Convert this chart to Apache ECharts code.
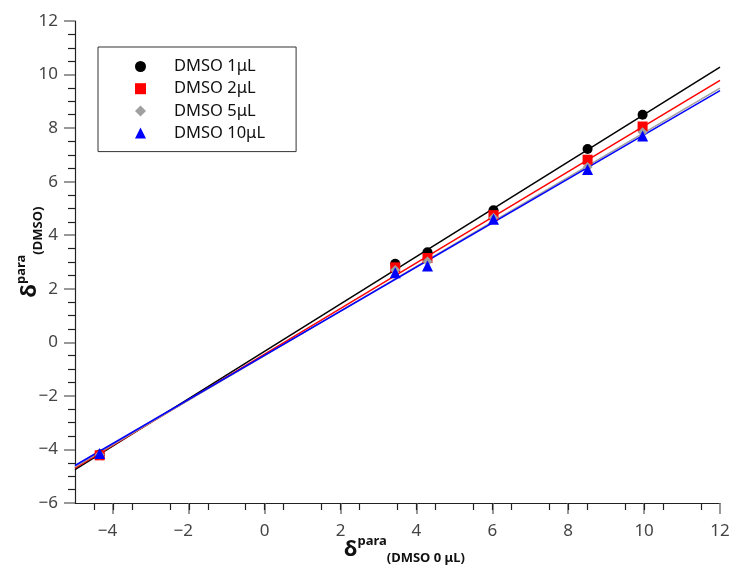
<!DOCTYPE html>
<html>
<head>
<meta charset="utf-8">
<script src="https://cdn.jsdelivr.net/npm/echarts/dist/echarts.min.js"></script>
<style>html,body{margin:0;padding:0;background:#fff}#c{width:732px;height:567px}</style>
</head>
<body>
<div id="c"></div>
<script>
// ---- data ----
const seriesNames = ['DMSO 1μL', 'DMSO 2μL', 'DMSO 5μL', 'DMSO 10μL'];
const xValues = [-4.35, 3.44, 4.29, 6.03, 8.51, 9.96];
const yDmso1 = [-4.19, 2.93, 3.36, 4.93, 7.22, 8.50];
const yDmso2 = [-4.22, 2.80, 3.15, 4.75, 6.82, 8.06];
const yDmso5 = [-4.20, 2.70, 3.02, 4.65, 6.55, 7.85];
const yDmso10 = [-4.15, 2.60, 2.85, 4.60, 6.45, 7.71];
// fitted lines: values at the ends of the fit range
const fitRange = [-5, 12];
const fitStart = [-4.75, -4.70, -4.65, -4.60];
const fitEnd = [10.28, 9.78, 9.49, 9.40];
const xTicks = [-4, -2, 0, 2, 4, 6, 8, 10, 12];
const yTicks = [-6, -4, -2, 0, 2, 4, 6, 8, 10, 12];

const colors = ['#000000', '#ff0000', '#a0a0a0', '#0000ff'];
const symbols = ['circle', 'rect', 'diamond', 'triangle'];
const sizes = [10, 10, 10, 11];
const ySets = [yDmso1, yDmso2, yDmso5, yDmso10];

const series = [];
seriesNames.forEach((n, i) => {
  series.push({
    name: n + ' fit', type: 'line', silent: true, symbol: 'none',
    data: [[fitRange[0], fitStart[i]], [fitRange[1], fitEnd[i]]],
    lineStyle: { color: colors[i], width: 1.5 }, z: 2
  });
});
seriesNames.forEach((n, i) => {
  series.push({
    name: n, type: 'scatter', symbol: symbols[i], symbolSize: sizes[i],
    itemStyle: { color: colors[i], opacity: 1 },
    data: xValues.map((x, k) => [x, ySets[i][k]]), z: 3
  });
});

const fmt = v => {
  if (v < 0) return '{neg|\u2212' + Math.abs(v) + '}';
  return String(v);
};
const labelFont = { fontFamily: 'Noto Sans', fontSize: 17, color: '#444' };
const makeRich = (shift) => ({
  d: { fontFamily: 'Noto Sans', fontSize: 22, fontWeight: 'bold', color: '#111', lineHeight: 30, verticalAlign: 'middle', padding: [0, 0, 0, shift] },
  sup: { fontFamily: 'Noto Sans', fontSize: 13, fontWeight: 'bold', color: '#111', lineHeight: 14, verticalAlign: 'top' },
  sub: { fontFamily: 'Noto Sans', fontSize: 13, fontWeight: 'bold', color: '#111', lineHeight: 14, verticalAlign: 'bottom' }
});

const chart = echarts.init(document.getElementById('c'));
chart.setOption({
  animation: false,
  backgroundColor: '#fff',
  grid: { left: 75, right: 12, top: 21, bottom: 64, containLabel: false, outerBoundsMode: 'none' },
  legend: {
    data: seriesNames.map((n, i) => ({ name: n, itemStyle: { color: colors[i], opacity: 1 } })),
    orient: 'vertical',
    left: 98, top: 47,
    borderColor: '#333', borderWidth: 1,
    padding: [11, 31, 10, 37],
    itemWidth: 11, itemHeight: 11, itemGap: 5.2,
    textStyle: { fontFamily: 'Noto Sans', fontSize: 16.5, color: '#111', lineHeight: 16, padding: [0, 0, 0, 23] }
  },
  xAxis: {
    type: 'value', min: -5, max: 12, interval: 2,
    axisLine: { onZero: false, lineStyle: { color: '#222', width: 1.2 } },
    axisTick: { show: true, inside: false, length: 11, lineStyle: { color: '#777', width: 1.5 },
      customValues: xTicks },
    minorTick: { show: true, splitNumber: 4, length: 7, lineStyle: { color: '#222', width: 1.2 } },
    splitLine: { show: false },
    axisLabel: { ...labelFont, margin: 20, formatter: fmt, customValues: xTicks,
      rich: { neg: { ...labelFont, padding: [0, 11, 0, 0] } } },
    name: '{d|δ}{sup|para}{sub|(DMSO 0 μL)}',
    nameLocation: 'middle', nameGap: 32, nameMoveOverlap: false,
    nameTextStyle: { rich: makeRich(14) }
  },
  yAxis: {
    type: 'value', min: -6, max: 12, interval: 2,
    axisLine: { show: true, onZero: false, lineStyle: { color: '#222', width: 1.2 } },
    axisTick: { show: true, inside: false, length: 11, lineStyle: { color: '#777', width: 1.5 } },
    minorTick: { show: true, splitNumber: 4, length: 7, lineStyle: { color: '#222', width: 1.2 } },
    splitLine: { show: false },
    axisLabel: { ...labelFont, margin: 17, formatter: v => (v < 0 ? '\u2212' + Math.abs(v) : String(v)) },
    name: '{d|δ}{sup|para}{sub|(DMSO)}',
    nameLocation: 'middle', nameGap: 30, nameMoveOverlap: false,
    nameTextStyle: { rich: makeRich(20) }
  },
  series: series
});
</script>
</body>
</html>
